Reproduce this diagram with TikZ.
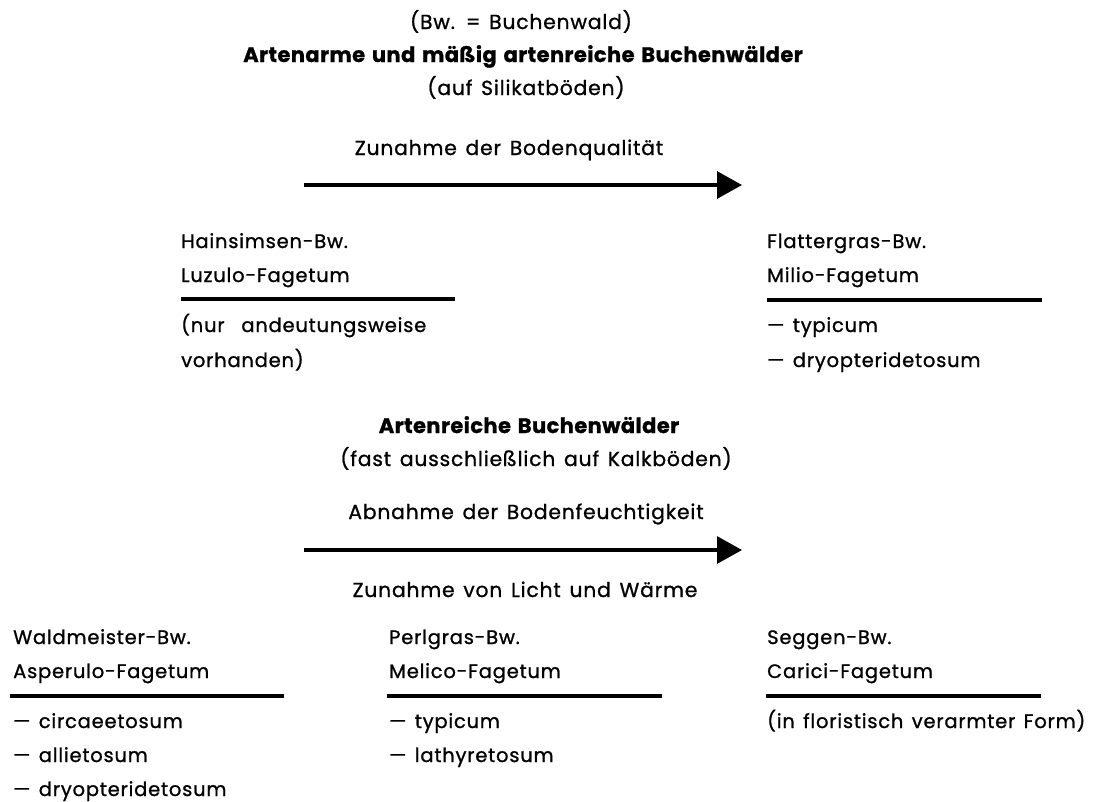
\documentclass[tikz,border=0pt]{standalone}
\usepackage{fontspec}
\setmainfont{Poppins}[LetterSpace=4, WordSpace=1.4, FakeBold=1,
	BoldFeatures={LetterSpace=2, FakeBold=1}]
\usetikzlibrary{arrows.meta}

\begin{document}
\begin{tikzpicture}[x=1pt,y=-1pt]
	\tikzset{txt/.style = {inner sep=0pt, font=\fontsize{19.5}{23}\selectfont},
		lbl/.style = {txt, anchor=base west},
		ctr/.style = {txt, anchor=base, font=\fontsize{20.3}{24}\selectfont},
		head/.style = {ctr, font=\fontsize{21}{25}\selectfont\bfseries},
		rulebar/.style = {line width=3.2pt},
		trend/.style = {line width=3.2pt, -{Triangle[length=25pt,width=27pt]}}}
	\useasboundingbox (0,0) rectangle (1116,801);
	% Silikat
	\node[ctr]  (bwnote)    at (521,29)  {(Bw. = Buchenwald)};
	\node[head] (titlepoor) at (523,62)  {Artenarme und mäßig artenreiche Buchenwälder};
	\node[ctr]  (silikat)   at (526,95)  {(auf Silikatböden)};
	\node[ctr]  (qualitaet) at (509,155) {Zunahme der Bodenqualität};
	\coordinate (qualL) at (304,185); \coordinate (qualR) at (742,185);
	\draw[trend] (qualL) -- (qualR);
	\node[lbl] (hains)  at (181,248) {Hainsimsen-Bw.};
	\node[lbl] (luzulo) at (181,282) {Luzulo-Fagetum};
	\coordinate (luzL) at (181,299); \coordinate (luzR) at (455,299);
	\draw[rulebar] (luzL) -- (luzR);
	\node[lbl] (nuran)  at (181,332) {(nur\ \ andeutungsweise};
	\node[lbl] (vorh)   at (181,367) {vorhanden)};
	\node[lbl] (flatter) at (767,248) {Flattergras-Bw.};
	\node[lbl] (milio)   at (767,282) {Milio-Fagetum};
	\coordinate (milL) at (767,300); \coordinate (milR) at (1042,300);
	\draw[rulebar] (milL) -- (milR);
	\node[lbl] (miltyp) at (767,332) {— typicum};
	\node[lbl] (mildry) at (767,367) {— dryopteridetosum};
	% Kalk
	\node[head] (titlerich) at (529,433) {Artenreiche Buchenwälder};
	\node[ctr]  (kalk)      at (536,466) {(fast ausschließlich auf Kalkböden)};
	\node[ctr]  (feucht)    at (526,519) {Abnahme der Bodenfeuchtigkeit};
	\coordinate (feuL) at (304,550); \coordinate (feuR) at (742,550);
	\draw[trend] (feuL) -- (feuR);
	\node[ctr]  (licht)     at (525,597) {Zunahme von Licht und Wärme};
	\node[lbl] (waldm)   at (13,644) {Waldmeister-Bw.};
	\node[lbl] (asper)   at (13,678) {Asperulo-Fagetum};
	\coordinate (aspL) at (10,696); \coordinate (aspR) at (284,696);
	\draw[rulebar] (aspL) -- (aspR);
	\node[lbl] (aspcirc) at (13,728) {— circaeetosum};
	\node[lbl] (aspall)  at (13,762) {— allietosum};
	\node[lbl] (aspdry)  at (13,796) {— dryopteridetosum};
	\node[lbl] (perlg)   at (389,644) {Perlgras-Bw.};
	\node[lbl] (melico)  at (389,678) {Melico-Fagetum};
	\coordinate (melL) at (387,696); \coordinate (melR) at (662,696);
	\draw[rulebar] (melL) -- (melR);
	\node[lbl] (meltyp)  at (389,728) {— typicum};
	\node[lbl] (mellath) at (389,762) {— lathyretosum};
	\node[lbl] (segg)    at (767,644) {Seggen-Bw.};
	\node[lbl] (carici)  at (767,678) {Carici-Fagetum};
	\coordinate (carL) at (766,696); \coordinate (carR) at (1041,696);
	\draw[rulebar] (carL) -- (carR);
	\node[lbl] (carform) at (767,728) {(in floristisch verarmter Form)};
\end{tikzpicture}
\end{document}
